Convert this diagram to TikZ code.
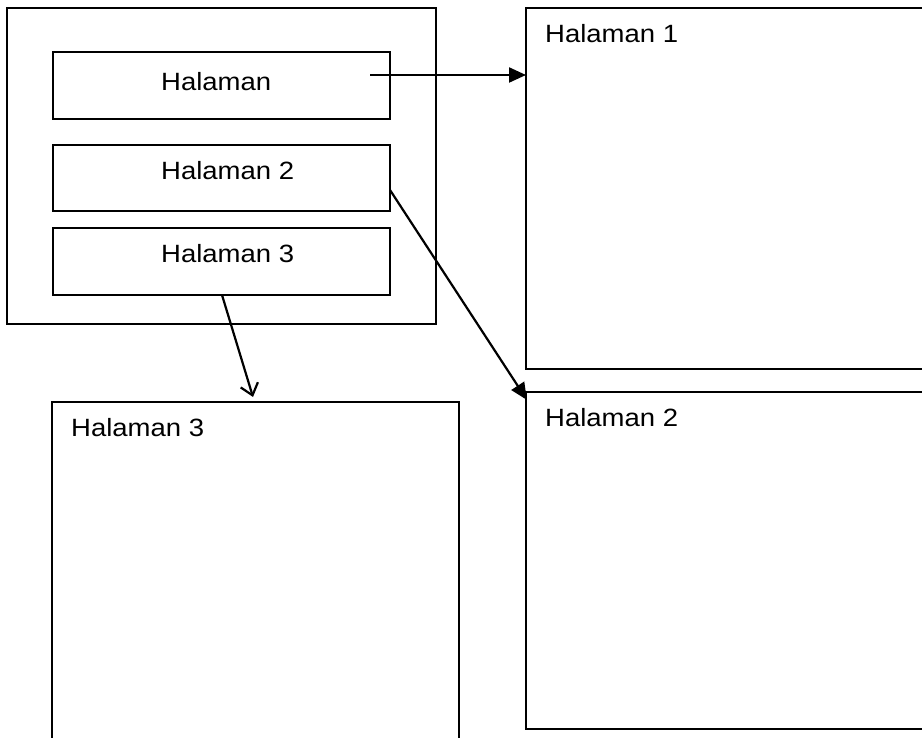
\documentclass[tikz,border=0pt]{standalone}
\usepackage{fontspec}
\usepackage{graphicx}
\setmainfont{Liberation Sans}
\usetikzlibrary{arrows.meta,calc}
\newcommand{\widetext}[1]{\scalebox{1.1}[1]{#1}}
\begin{document}
\begin{tikzpicture}[x=1pt,y=-1pt,
  box/.style={draw=black,line width=2pt,inner sep=0pt,outer sep=0pt,rectangle},
  lbl/.style={anchor=base west,inner sep=0pt,font=\fontsize{25}{30}\selectfont},
  link/.style={line width=2.2pt},
  solidtip/.style={-{Triangle[length=17pt,width=15pt]}},
  opentip/.style={-{Straight Barb[length=11pt,width=18pt,line width=2.2pt]}}]
\useasboundingbox (0,0) rectangle (922,738);
\clip (0,0) rectangle (922,738);
\fill[white] (0,0) rectangle (922,738);
% left menu frame
\node[box,minimum width=429pt,minimum height=316pt] (outer) at (221.5,166) {};
\node[box,minimum width=337pt,minimum height=67pt] (b1) at (221.5,85.5) {};
\node[box,minimum width=337pt,minimum height=66pt] (b2) at (221.5,178) {};
\node[box,minimum width=337pt,minimum height=67pt] (b3) at (221.5,261.5) {};
\node[lbl] (t1) at (161,91) {\widetext{Halaman}};
\node[lbl] (t2) at (161,180) {\widetext{Halaman 2}};
\node[lbl] (t3) at (161,263) {\widetext{Halaman 3}};
% page frames
\node[box,minimum width=414pt,minimum height=361pt] (f1) at (733,188.5) {};
\node[box,minimum width=414pt,minimum height=337pt] (f2) at (733,560.5) {};
\node[box,minimum width=407pt,minimum height=358pt] (f3) at (255.5,581) {};
\node[lbl] (p1) at (545,43) {\widetext{Halaman 1}};
\node[lbl] (p2) at (545,426) {\widetext{Halaman 2}};
\node[lbl] (p3) at (71,436) {\widetext{Halaman 3}};
% connectors
\coordinate (s1) at (370,75);
\coordinate (e1) at (f1.west |- s1);
\coordinate (s2) at (b2.east |- 0,190);
\coordinate (e2) at ($(f2.north west)+(1,8)$);
\coordinate (s3) at (222,295);
\coordinate (e3) at (253,397);
\draw[link,solidtip] (s1) -- (e1);
\draw[link,solidtip] (s2) -- (e2);
\draw[link,opentip] (s3) -- (e3);
\end{tikzpicture}
\end{document}
